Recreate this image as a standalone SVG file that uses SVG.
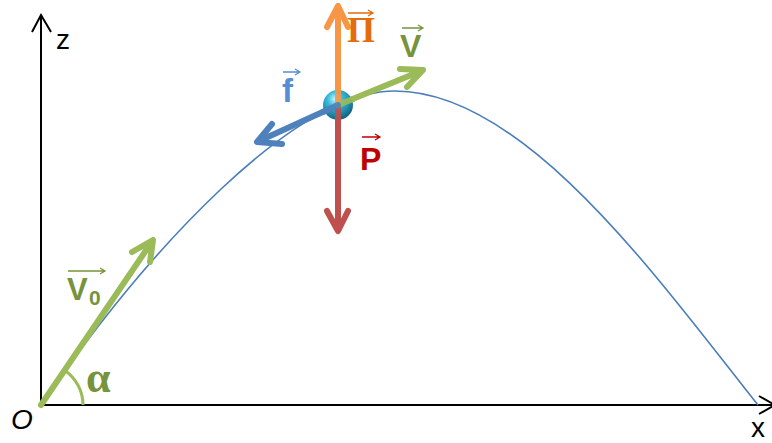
<svg xmlns="http://www.w3.org/2000/svg" width="772" height="443" viewBox="0 0 772 443">
<defs>
<radialGradient id="ball" cx="0.4" cy="0.3" r="0.7">
<stop offset="0" stop-color="#c8f6ff"/>
<stop offset="0.35" stop-color="#3cbcdc"/>
<stop offset="1" stop-color="#0e6482"/>
</radialGradient>
<style>
.axis{stroke:#000;stroke-width:2;fill:none}
.traj{stroke:#4a7ebb;stroke-width:1.6;fill:none}
.vec{fill:none;stroke-width:6;stroke-linecap:round;stroke-linejoin:round}
.ovr{fill:none;stroke-width:1.3}
.lbl{font-family:"Liberation Sans",Arial,sans-serif;font-weight:bold}
.ax{font-family:"Liberation Sans",Arial,sans-serif;font-size:28px;fill:#000}
</style>
</defs>
<g id="axes">
<path class="axis" d="M41,405 V15 M32,32 L41,15 L51,32"/>
<path class="axis" d="M41,405 H772 M759,396 L775,405 L759,414"/>
<text class="ax" x="56" y="49">z</text>
<text class="ax" x="751" y="437">x</text>
<text class="ax" x="11" y="429" font-style="italic">O</text>
</g>
<g id="trajectory">
<path class="traj" d="M41,405 C148.5,248.4 295,91 395,91 C525,91 658.5,279.7 758,405"/>
</g>
<g id="angle">
<path d="M64.8,370.4 A42,42 0 0 1 83,405" fill="none" stroke="#9bbb59" stroke-width="3"/>
<text x="86" y="392" font-family="Liberation Serif,serif" font-size="44" font-weight="bold" fill="#77933c">α</text>
</g>
<g id="connectors">
<g id="v0-arrow" stroke="#9bbb59">
<path class="vec" d="M41,405 L151,243 M132,252 L153,240 L150,262"/>
</g>
<g id="pi-arrow" stroke="#f79646">
<path class="vec" d="M338,104 V7 M327,27 L338,6 L348,27"/>
</g>
<g id="p-arrow" stroke="#c0504d">
<path class="vec" d="M338,104 V230 M327,211 L338,231 L348,211"/>
</g>
<g id="v-arrow" stroke="#9bbb59">
<path class="vec" d="M338,105 L421,71 M400,69 L423,70 L407,87"/>
</g>
<g id="f-arrow" stroke="#4f81bd">
<path class="vec" d="M338,105 L259,141 M272,124 L257,142 L282,144"/>
</g>
</g>
<g id="ball-node">
<circle cx="338" cy="105" r="15" fill="url(#ball)"/>
<path class="vec" d="M338,89 V104" stroke="#f79646" stroke-width="5" opacity="0.9"/>
<path class="vec" d="M338,106 V120" stroke="#c0504d" stroke-width="5" opacity="0.9"/>
<path class="vec" d="M338,105 L353,99" stroke="#9bbb59" stroke-width="5" opacity="0.9"/>
<path class="vec" d="M338,105 L323,112" stroke="#4f81bd" stroke-width="5" opacity="0.9"/>
</g>
<g id="label-v0">
<text class="lbl" x="67" y="300" font-size="31" fill="#77933c">V</text>
<text class="lbl" x="89" y="305" font-size="21" fill="#77933c">0</text>
<path class="ovr" stroke="#77933c" d="M68,271 H105 M100,268 L105,271 L100,274"/>
</g>
<g id="label-pi">
<text x="347" y="42" font-family="Liberation Serif,serif" font-size="36" font-weight="bold" fill="#e46c0a">Π</text>
<path class="ovr" stroke="#e46c0a" d="M348,13 H373 M368,10 L373,13 L368,16"/>
</g>
<g id="label-v">
<text class="lbl" x="400" y="57" font-size="32" fill="#77933c">V</text>
<path class="ovr" stroke="#77933c" d="M402,28 H423 M418,25 L423,28 L418,31"/>
</g>
<g id="label-f">
<text class="lbl" x="282" y="102" font-size="33" fill="#558ed5">f</text>
<path class="ovr" stroke="#558ed5" d="M283,72 H300 M295,69 L300,72 L295,75"/>
</g>
<g id="label-p">
<text class="lbl" x="360" y="170" font-size="32" fill="#c00000">P</text>
<path class="ovr" stroke="#c00000" d="M362,137 H380 M375,134 L380,137 L375,140"/>
</g>
</svg>
